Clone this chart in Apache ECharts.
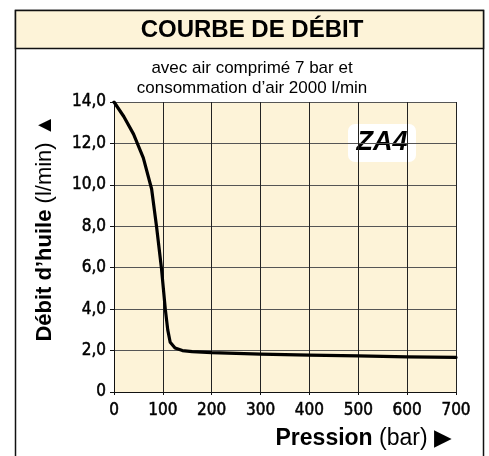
<!DOCTYPE html>
<html>
<head>
<meta charset="utf-8">
<script src="https://cdn.jsdelivr.net/npm/echarts@6/dist/echarts.min.js"></script>
<style>
  html, body { margin: 0; padding: 0; background: #fff; }
  #chart { width: 489px; height: 456px; }
</style>
</head>
<body>
<div id="chart"></div>
<script>
// courbe ZA4
var pression = [0, 20, 40, 60, 77, 87, 97, 105, 110, 115, 125, 140, 160, 200, 300, 400, 500, 600, 700];
var debit = [14.0, 13.3, 12.45, 11.3, 9.8, 8.0, 6.0, 4.0, 3.0, 2.4, 2.12, 2.0, 1.95, 1.9, 1.83, 1.78, 1.74, 1.7, 1.67];
var xTicks = [0, 100, 200, 300, 400, 500, 600, 700];
var yTicks = [0, 2, 4, 6, 8, 10, 12, 14];

window.onload = function(){
    setChart();
}

function setChart(){
    var dom = document.getElementById('chart');
    var myChart = echarts.init(dom);
    var points = [];
    for (let i = 0; i < pression.length; i++) {
        points.push([pression[i], debit[i]]);
    }
    var narrow = '"Liberation Sans Narrow", "DejaVu Sans Condensed", "Liberation Sans", sans-serif';
    var option = {
        animation: false,
        backgroundColor: '#fff',
        grid: {
            left: 114,
            right: 33,
            top: 102,
            bottom: 64,
            show: true,
            backgroundColor: '#fdf3d8',
            borderColor: '#111',
            borderWidth: 0
        },
        graphic: [
            {   // cadre
                type: 'rect', z: 0,
                shape: { x: 15.5, y: 10.5, width: 468, height: 460 },
                style: { fill: 'none', stroke: '#111', lineWidth: 1.5 }
            },
            {   // bandeau du titre
                type: 'rect', z: 1,
                shape: { x: 15.5, y: 10.5, width: 468, height: 38 },
                style: { fill: '#fdf3d8', stroke: '#111', lineWidth: 1.5 }
            },
            {
                type: 'text', z: 2,
                style: { x: 252, y: 30, text: 'COURBE DE DÉBIT', align: 'center', verticalAlign: 'middle',
                    font: 'bold 24px "Liberation Sans", Arial, sans-serif', fill: '#000' }
            },
            {
                type: 'text', z: 2,
                style: {
                    x: 252, y: 78,
                    text: 'avec air comprimé 7 bar et\nconsommation d’air 2000 l/min',
                    font: '17px "Liberation Sans", Arial, sans-serif', fill: '#000',
                    align: 'center', verticalAlign: 'middle', lineHeight: 20
                }
            },
            {   // etiquette ZA4
                type: 'group', z: 100, left: 348, top: 124,
                children: [
                    { type: 'rect', shape: { x: 0, y: 0, width: 68, height: 38, r: 7 }, style: { fill: '#fff' } },
                    { type: 'text', style: { x: 34, y: 19, text: 'ZA4', align: 'center', verticalAlign: 'middle',
                        font: 'italic bold 27px "Liberation Sans", Arial, sans-serif', fill: '#000' } }
                ]
            }
        ],
        xAxis: {
            type: 'value',
            min: 0,
            max: 700,
            interval: 100,
            name: '{b|Pression}{n| (bar) ▶}',
            nameLocation: 'end',
            nameGap: -4,
            nameTextStyle: {
                align: 'right',
                verticalAlign: 'top',
                padding: [35, 0, 0, 0],
                rich: {
                    b: { fontSize: 23, fontWeight: 'bold', color: '#000', fontFamily: '"Liberation Sans", Arial' },
                    n: { fontSize: 23, color: '#000', fontFamily: '"Liberation Sans", Arial' }
                }
            },
            axisLine: { show: true, lineStyle: { color: '#111', width: 1 } },
            axisTick: { show: true, length: 3, lineStyle: { color: '#111' } },
            axisLabel: {
                margin: 10,
                color: '#000',
                fontSize: 17,
                fontFamily: narrow,
                textBorderColor: '#000',
                textBorderWidth: 0.5,
                formatter: function(v){ return xTicks.indexOf(v) >= 0 ? String(v) : ''; }
            },
            splitLine: { show: true, lineStyle: { color: '#222', width: 1 } }
        },
        yAxis: {
            type: 'value',
            min: 0,
            max: 14,
            interval: 2,
            name: '{b|Débit d’huile}{n| (l/min) ▲}',
            nameLocation: 'middle',
            nameRotate: 90,
            nameGap: 58,
            nameTextStyle: {
                padding: [0, 0, 0, 38],
                rich: {
                    b: { fontSize: 22, fontWeight: 'bold', color: '#000', fontFamily: '"Liberation Sans", Arial' },
                    n: { fontSize: 22, color: '#000', fontFamily: '"Liberation Sans", Arial' }
                }
            },
            axisLine: { show: true, lineStyle: { color: '#111', width: 1 } },
            axisTick: { show: true, length: 4, lineStyle: { color: '#111' } },
            axisLabel: {
                margin: 8,
                color: '#000',
                fontSize: 17,
                fontFamily: narrow,
                textBorderColor: '#000',
                textBorderWidth: 0.5,
                formatter: function(v){
                    if (yTicks.indexOf(v) < 0) return '';
                    return v === 0 ? '0' : v.toFixed(1).replace('.', ',');
                }
            },
            splitLine: { show: true, lineStyle: { color: '#555', width: 1 } }
        },
        series: [{
            type: 'line',
            data: points,
            symbol: 'none',
            smooth: false,
            z: 10,
            lineStyle: { color: '#000', width: 3.2, join: 'round', cap: 'round' }
        }]
    };
    myChart.setOption(option);
}
</script>
</body>
</html>
